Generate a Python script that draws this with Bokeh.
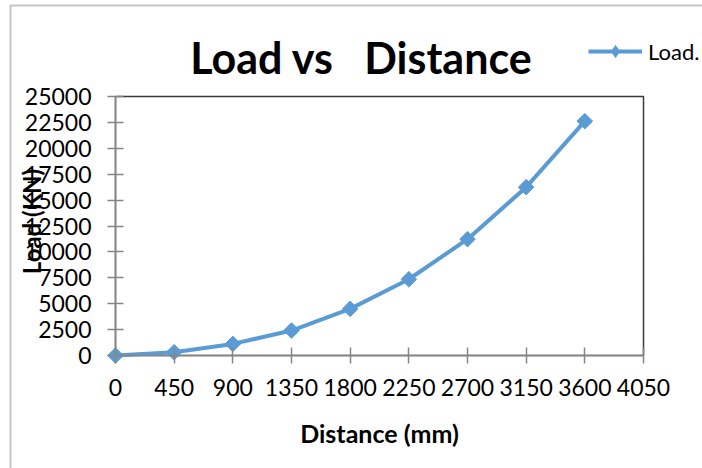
import numpy as np
from bokeh.plotting import figure
from bokeh.models import Range1d, FixedTicker, Label, Legend, LegendItem, BoxAnnotation
from bokeh.embed import file_html
from bokeh.resources import INLINE

# ---- data ----
distance = [0, 450, 900, 1350, 1800, 2250, 2700, 3150, 3600]
load = [0, 320, 1120, 2410, 4500, 7360, 11230, 16250, 22620]
x_ticks = [0, 450, 900, 1350, 1800, 2250, 2700, 3150, 3600, 4050]
y_ticks = [0, 2500, 5000, 7500, 10000, 12500, 15000, 17500, 20000, 22500, 25000]
title_text = "Load vs \u00a0\u00a0Distance"
x_label = "Distance (mm)"
y_label = "Load (KN)"
series_name = "Load."

W, H = 702, 468
FL, FR, FT, FB = 115, 643, 96, 355  # plot-area edges in canvas px

xr = (x_ticks[-1] - x_ticks[0]) / (FR - FL)
yr = (y_ticks[-1] - y_ticks[0]) / (FB - FT)
def dx(px):
    return x_ticks[0] + (px - FL) * xr
def dy(py):
    return y_ticks[0] + (FB - py) * yr

p = figure(width=W, height=H, output_backend="svg", toolbar_location=None,
           x_range=Range1d(dx(0), dx(W)), y_range=Range1d(dy(H), dy(0)),
           min_border_left=0, min_border_right=0, min_border_top=0, min_border_bottom=0)

p.xgrid.visible = False
p.ygrid.visible = False
p.outline_line_color = None
p.background_fill_color = "white"
p.border_fill_color = "white"

# outer chart border
p.add_layout(BoxAnnotation(left=dx(10), top=dy(5), right=dx(W + 50), bottom=dy(H + 50),
                           fill_alpha=0, line_color="#c4c4c4", line_alpha=1, line_width=2,
                           level="underlay"))
# plot-area frame (top/right visible; left/bottom covered by the axes)
p.add_layout(BoxAnnotation(left=x_ticks[0], right=x_ticks[-1], bottom=y_ticks[0], top=y_ticks[-1],
                           fill_alpha=0, line_color="#3a3a3a", line_alpha=1, line_width=1.5,
                           level="underlay"))

blue = "#5B9BD5"
ln = p.line(distance, load, line_color=blue, line_width=4)
# legend key marker: diamond on the first point, hidden under that point's own marker
key = p.scatter(distance[:1], load[:1], marker="diamond", size=10,
                fill_color=blue, line_color=blue)
sc = p.scatter(distance, load, marker="square", angle=np.pi / 4, size=11,
               fill_color=blue, line_color=blue)

p.xaxis[0].fixed_location = y_ticks[0]
p.yaxis[0].fixed_location = x_ticks[0]
p.xaxis[0].bounds = (x_ticks[0], x_ticks[-1])
p.yaxis[0].bounds = (y_ticks[0], y_ticks[-1])

for ax, ticks in ((p.xaxis[0], x_ticks), (p.yaxis[0], y_ticks)):
    ax.ticker = FixedTicker(ticks=ticks)
    ax.minor_tick_line_color = None
    ax.axis_line_color = "#868686"
    ax.axis_line_width = 1.5
    ax.major_tick_line_color = "#868686"
    ax.major_tick_line_width = 1.5
    ax.major_tick_in = 8
    ax.major_tick_out = 8
    ax.major_label_text_font = "Lato"
    ax.major_label_text_font_size = "23px"
    ax.major_label_text_color = "black"

p.yaxis[0].major_label_standoff = 16
p.xaxis[0].major_label_standoff = 15

# title
p.add_layout(Label(x=dx(361), y=dy(57), text=title_text, text_align="center",
                   text_baseline="alphabetic", text_font="Lato", text_font_style="bold",
                   text_font_size="43px", text_color="black"))
# x axis label
p.add_layout(Label(x=dx((FL + FR) / 2), y=dy(432), text=x_label, text_align="center",
                   text_baseline="middle", text_font="Lato", text_font_style="bold",
                   text_font_size="25px", text_color="black"))
# y label (overlapping the tick labels, as in the reference)
p.add_layout(Label(x=dx(31), y=dy(221), text=y_label, angle=np.pi / 2,
                   text_align="center", text_baseline="middle", text_font="Lato",
                   text_font_style="bold", text_font_size="24px", text_color="black"))

legend = Legend(items=[LegendItem(label=series_name, renderers=[ln, key])],
                location=(588, H - 51 - 15), orientation="horizontal", glyph_width=54,
                glyph_height=30, label_standoff=6, padding=0, margin=0, spacing=0,
                border_line_color=None, background_fill_alpha=0, label_text_font="Lato",
                label_text_font_size="22px", label_text_color="black")
p.add_layout(legend, "center")

open("out.html", "w").write(file_html(p, INLINE))
